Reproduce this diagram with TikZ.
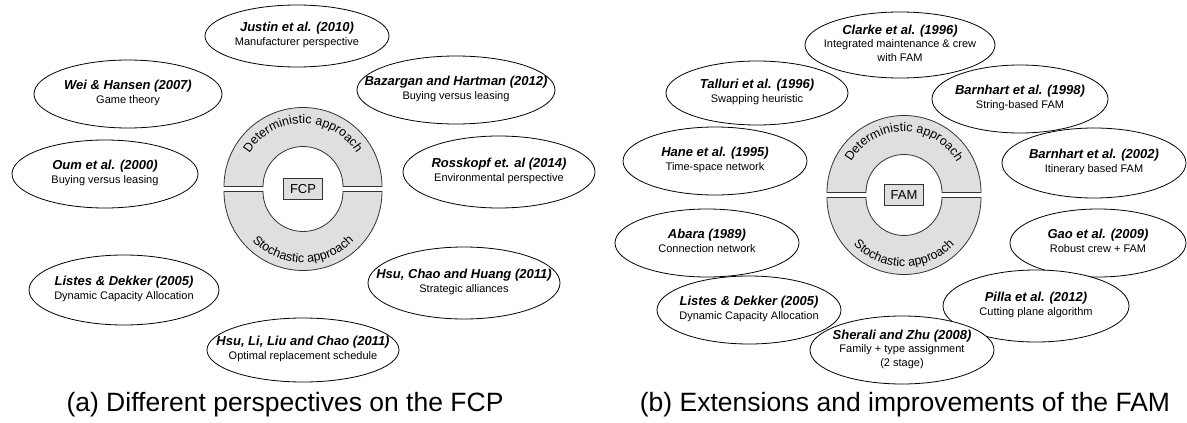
\documentclass[tikz,border=0pt]{standalone}
\usepackage{fontspec}
\setmainfont{Liberation Sans}
\usetikzlibrary{shapes.geometric,decorations.text,calc}
\pgfdeclarelayer{bg}
\pgfsetlayers{bg,main}

\definecolor{ringgray}{gray}{0.875}
\newcommand\titlefont{\fontsize{13}{15}\selectfont\bfseries\itshape}
\newcommand\subfont{\fontsize{11}{13.5}\selectfont}
\newcommand\ringfont{\fontsize{12.5}{14}\selectfont}
% two or three centred lines: bold italic reference, then its topic
\newcommand\reftext[2]{\makebox[0pt]{\subfont\begin{tabular}{@{}c@{}}{\titlefont #1}\\#2\end{tabular}}}

\tikzset{
  paper/.style 2 args={ellipse, draw=black, line width=0.8pt, fill=white,
    inner sep=0pt, minimum width=#1pt, minimum height=#2pt},
  link/.style={draw=black, line width=0.8pt, dash pattern=on 3pt off 2pt},
  ringpart/.style={fill=ringgray, draw=black!80, line width=0.8pt},
  corebox/.style={rectangle, fill=ringgray, draw=black!80, line width=0.8pt,
    minimum width=39pt, minimum height=21pt, inner sep=0pt,
    font=\fontsize{13}{15}\selectfont},
  caption/.style={font=\fontsize{26.5}{30}\selectfont, inner sep=0pt},
}

\begin{document}
\begin{tikzpicture}[x=1pt,y=1pt]
\fill[white] (0,0) rectangle (1187,-423);
\useasboundingbox (0,0) rectangle (1187,-423);

% ---------------- (a) fleet composition problem ----------------
\node[paper={184}{62}] (just)  at (297,-36)  {\reftext{Justin et al. (2010)}{Manufacturer perspective}};
\node[paper={188}{68}] (wei)   at (128,-94)  {\reftext{Wei \& Hansen (2007)}{Game theory}};
\node[paper={198}{68}] (baz)   at (456,-90)  {\reftext{Bazargan and Hartman (2012)}{Buying versus leasing}};
\node[paper={186}{68}] (oum)   at (105,-174) {\reftext{Oum et al. (2000)}{Buying versus leasing}};
\node[paper={192}{72}] (ross)  at (499,-172) {\reftext{Rosskopf et. al (2014)}{Environmental perspective}};
\node[paper={190}{70}] (listL) at (124,-290) {\reftext{Listes \& Dekker (2005)}{Dynamic Capacity Allocation}};
\node[paper={192}{72}] (hsuch) at (464,-283) {\reftext{Hsu, Chao and Huang (2011)}{Strategic alliances}};
\node[paper={192}{64}] (hsuli) at (303,-350) {\reftext{Hsu, Li, Liu and Chao (2011)}{Optimal replacement schedule}};

\begin{scope}[shift={(303,-189)}]
  \filldraw[ringpart] (-79,2.5) arc[start angle=180,end angle=0,radius=79]
    -- (40,2.5) arc[start angle=0,end angle=180,radius=40] -- cycle;
  \filldraw[ringpart] (-79,-2.5) arc[start angle=180,end angle=360,radius=79]
    -- (40,-2.5) arc[start angle=360,end angle=180,radius=40] -- cycle;
  \path[decorate, decoration={text along path, text align=center,
      text={|\ringfont|Deterministic approach}}]
    (-63,2.5) arc[start angle=180,end angle=0,radius=63];
  \path[decorate, decoration={text along path, text align=center,
      text={|\ringfont|Stochastic approach}}]
    (-71,-2.5) arc[start angle=180,end angle=360,radius=71];
  \node[corebox] (fcp) at (0,0) {FCP};
  \coordinate (Ljust)  at ([shift={(0,2.5)}]90:79);
  \coordinate (Lwei)   at ([shift={(0,2.5)}]128:79);
  \coordinate (Lbaz)   at ([shift={(0,2.5)}]38:79);
  \coordinate (Loum)   at ([shift={(0,2.5)}]167:79);
  \coordinate (Lross)  at ([shift={(0,2.5)}]13:79);
  \coordinate (Llist)  at ([shift={(0,-2.5)}]228:79);
  \coordinate (Lhsuch) at ([shift={(0,-2.5)}]322:79);
  \coordinate (Lhsuli) at ([shift={(0,-2.5)}]270:79);
\end{scope}

% ---------------- (b) fleet assignment model ----------------
\node[paper={190}{66}] (clarke) at (900,-45)  {\reftext{Clarke et al. (1996)}{Integrated maintenance \& crew\\with FAM}};
\node[paper={182}{64}] (tall)   at (757,-93)  {\reftext{Talluri et al. (1996)}{Swapping heuristic}};
\node[paper={176}{68}] (barn98) at (1020,-99) {\reftext{Barnhart et al. (1998)}{String-based FAM}};
\node[paper={184}{68}] (hane)   at (715,-161) {\reftext{Hane et al. (1995)}{Time-space network}};
\node[paper={184}{70}] (barn02) at (1094,-163){\reftext{Barnhart et al. (2002)}{Itinerary based FAM}};
\node[paper={184}{68}] (abara)  at (707,-243) {\reftext{Abara (1989)}{Connection network}};
\node[paper={176}{68}] (gao)    at (1098,-243){\reftext{Gao et al. (2009)}{Robust crew + FAM}};
\node[paper={184}{68}] (listR)  at (749,-310) {\reftext{Listes \& Dekker (2005)}{Dynamic Capacity Allocation}};
\node[paper={186}{72}] (pilla)  at (1036,-306){\reftext{Pilla et al. (2012)}{Cutting plane algorithm}};
\node[paper={184}{68}] (sher)   at (902,-350) {\reftext{Sherali and Zhu (2008)}{Family + type assignment\\(2 stage)}};

\begin{scope}[shift={(904,-195)}]
  \filldraw[ringpart] (-77,2.5) arc[start angle=180,end angle=0,radius=77]
    -- (38,2.5) arc[start angle=0,end angle=180,radius=38] -- cycle;
  \filldraw[ringpart] (-77,-2.5) arc[start angle=180,end angle=360,radius=77]
    -- (38,-2.5) arc[start angle=360,end angle=180,radius=38] -- cycle;
  \path[decorate, decoration={text along path, text align=center,
      text={|\ringfont|Deterministic approach}}]
    (-61,2.5) arc[start angle=180,end angle=0,radius=61];
  \path[decorate, decoration={text along path, text align=center,
      text={|\ringfont|Stochastic approach}}]
    (-69,-2.5) arc[start angle=180,end angle=360,radius=69];
  \node[corebox] (fam) at (0,0) {FAM};
  \coordinate (Rclarke) at ([shift={(0,2.5)}]90:77);
  \coordinate (Rtall)   at ([shift={(0,2.5)}]110:77);
  \coordinate (Rbarn98) at ([shift={(0,2.5)}]76:77);
  \coordinate (Rhane)   at ([shift={(0,2.5)}]143:77);
  \coordinate (Rbarn02) at ([shift={(0,2.5)}]21:77);
  \coordinate (Rabara)  at ([shift={(0,2.5)}]173:77);
  \coordinate (Rgao)    at ([shift={(0,-2.5)}]356:77);
  \coordinate (Rlist)   at ([shift={(0,-2.5)}]227:77);
  \coordinate (Rpilla)  at ([shift={(0,-2.5)}]319:77);
  \coordinate (Rsher)   at ([shift={(0,-2.5)}]270:77);
\end{scope}

% dashed connectors, kept behind the shapes
\begin{pgfonlayer}{bg}
  \draw[link] (just) -- (Ljust);
  \draw[link] (wei) -- (Lwei);
  \draw[link] (baz) -- (Lbaz);
  \draw[link] (oum) -- (Loum);
  \draw[link] (ross) -- (Lross);
  \draw[link] (listL) -- (Llist);
  \draw[link] (hsuch) -- (Lhsuch);
  \draw[link] (hsuli) -- (Lhsuli);
  \draw[link] (clarke) -- (Rclarke);
  \draw[link] (tall) -- (Rtall);
  \draw[link] (barn98) -- (Rbarn98);
  \draw[link] (hane) -- (Rhane);
  \draw[link] (barn02) -- (Rbarn02);
  \draw[link] (abara) -- (Rabara);
  \draw[link] (gao) -- (Rgao);
  \draw[link] (listR) -- (Rlist);
  \draw[link] (pilla) -- (Rpilla);
  \draw[link] (sher) -- (Rsher);
\end{pgfonlayer}

\node[caption] (capa) at (285,-405) {(a) Different perspectives on the FCP};
\node[caption] (capb) at (905,-405) {(b) Extensions and improvements of the FAM};
\end{tikzpicture}
\end{document}
